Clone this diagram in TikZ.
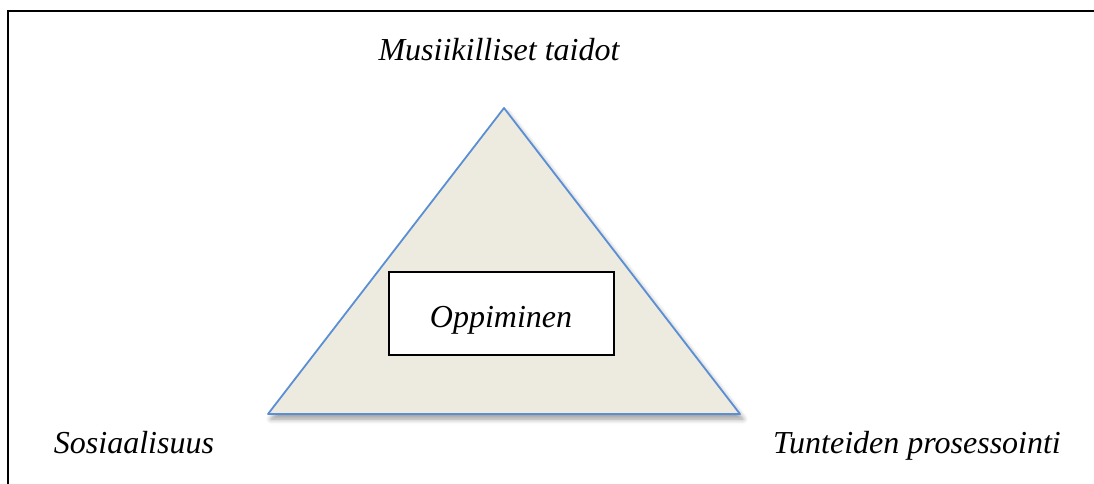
\documentclass[tikz,border=0pt]{standalone}
\usepackage{fontspec}
\setmainfont{Liberation Serif}
\usepackage{xcolor}
\usetikzlibrary{shadows.blur}
\definecolor{trifill}{RGB}{237, 235, 224}
\definecolor{triblue}{RGB}{91, 143, 212}
\tikzset{
  label/.style={font=\fontsize{16}{19}\selectfont\itshape, inner sep=0pt, anchor=base},
}
\begin{document}
\begin{tikzpicture}[x=0.5pt, y=-0.5pt]
\useasboundingbox (0,0) rectangle (1094,483);
\draw[line width=1.1pt] (8,490) -- (8,11) -- (1100,11);

\coordinate (top) at (504,108);
\coordinate (left) at (268,414);
\coordinate (right) at (740,414);
\fill[trifill, blur shadow={shadow xshift=1.5pt, shadow yshift=-2.5pt, shadow blur steps=6, shadow blur radius=2.5pt}] (top) -- (left) -- (right) -- cycle;
\draw[triblue, line width=0.9pt, line join=round] (top) -- (left) -- (right) -- cycle;

\draw[line width=0.8pt, fill=white] (389,272) rectangle (614,355);
\node[label] (learn) at (501,327) {Oppiminen};

\node[label] (music) at (499,60) {Musiikilliset taidot};
\node[label] (social) at (134,453) {Sosiaalisuus};
\node[label] (feel) at (917,453) {Tunteiden prosessointi};
\end{tikzpicture}
\end{document}
